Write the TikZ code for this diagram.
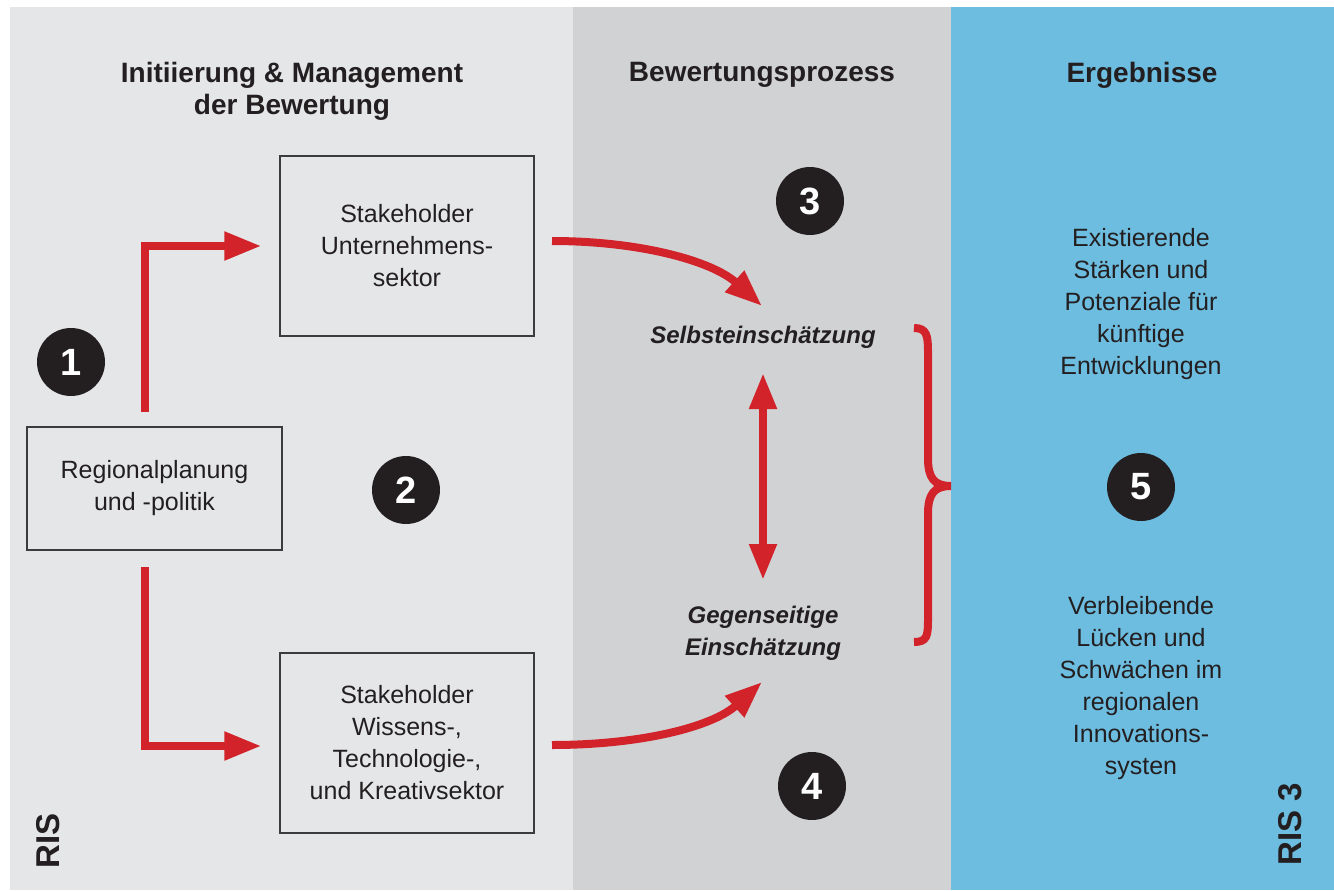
\documentclass[tikz,border=0pt]{standalone}
\usepackage{fontspec}
\setmainfont{Liberation Sans}
\usetikzlibrary{arrows.meta}
\definecolor{panelL}{HTML}{E5E6E8}
\definecolor{panelM}{HTML}{D1D2D4}
\definecolor{panelR}{HTML}{6DBDE0}
\definecolor{rred}{HTML}{D2232A}
\definecolor{ink}{HTML}{231F20}
\definecolor{boxline}{HTML}{3C3C3C}
\tikzset{
  title/.style={font=\fontsize{28}{32}\selectfont\bfseries, text=ink, align=center},
  body/.style={font=\fontsize{25}{32}\selectfont, text=ink, align=center},
  ital/.style={font=\fontsize{24}{32}\selectfont\bfseries\itshape, text=ink, align=center},
  stakebox/.style={draw=boxline, line width=1.3pt, body, minimum width=254pt, minimum height=180pt, inner sep=0pt},
  numdot/.style={circle, fill=ink, minimum size=68pt, inner sep=0pt, text=white, font=\fontsize{38}{38}\selectfont\bfseries},
  redline/.style={draw=rred, line width=8pt, line join=miter},
  redarr/.style={redline, -{Triangle[length=37pt,width=27pt]}},
  reddbl/.style={redline, {Triangle[length=36pt,width=26pt]}-{Triangle[length=36pt,width=26pt]}},
  sidelabel/.style={font=\fontsize{33}{33}\selectfont\bfseries, text=ink, rotate=90}
}
\begin{document}
\begin{tikzpicture}[x=1pt,y=-1pt]
\useasboundingbox (0,0) rectangle (1334,891);
\fill[white] (0,0) rectangle (1334,891);
% panels
\fill[panelL] (10,7) rectangle (573,890);
\fill[panelM] (573,7) rectangle (951,890);
\fill[panelR] (951,7) rectangle (1334,890);
% titles
\node[title] (t1) at (292,91) {Initiierung \& Management\\der Bewertung};
\node[title] (t2) at (762,75) {Bewertungsprozess};
\node[title] (t3) at (1142,75) {Ergebnisse};
% boxes
\node[stakebox] (A) at (407,246) {Stakeholder\\Unternehmens-\\sektor};
\node[stakebox, minimum width=255pt, minimum height=123pt] (R) at (154.5,488.5) {Regionalplanung\\und -politik};
\node[stakebox] (B) at (407,743) {Stakeholder\\Wissens-,\\Technologie-,\\und Kreativsektor};
% numbers
\node[numdot] (n1) at (71,362) {1};
\node[numdot] (n2) at (406,490) {2};
\node[numdot] (n3) at (810,201) {3};
\node[numdot] (n4) at (812,786) {4};
\node[numdot] (n5) at (1141,487) {5};
% middle labels
\node[ital] (S) at (763,337) {Selbsteinschätzung};
\node[ital] (G) at (763,633) {Gegenseitige\\Einschätzung};
% right texts
\node[body] (E) at (1141,304) {Existierende\\Stärken und\\Potenziale für\\künftige\\Entwicklungen};
\node[body] (V) at (1141,688) {Verbleibende\\Lücken und\\Schwächen im\\regionalen\\Innovations-\\systen};
% side labels
\node[sidelabel] (ris) at (48,841) {RIS};
\node[sidelabel] (ris3) at (1290,824) {RIS 3};
% connector anchors
\coordinate (r1) at (145,412);
\coordinate (r2) at (145,567);
\coordinate (c1) at (552,241);
\coordinate (c2) at (762,306);
\coordinate (c3) at (552,745);
\coordinate (c4) at (762,682);
\coordinate (d1) at (763,373);
\coordinate (d2) at (763,580);
\coordinate (bt) at (914,328);
\coordinate (bm) at (951,486);
\coordinate (bb) at (914,642);
% elbow arrows
\draw[redarr, shorten >=18pt] (r1) |- (A.west);
\draw[redarr, shorten >=18pt] (r2) |- ([yshift=-3pt]B.west);
% curved arrows
\draw[redarr] (c1) .. controls (640,241) and (712,261) .. (c2);
\draw[redarr] (c3) .. controls (640,745) and (712,727) .. (c4);
% double arrow
\draw[reddbl] (d1) -- (d2);
% brace
\draw[redline, line cap=butt] (bt) .. controls (927,328) and (928,336) .. (928,352)
  -- (928,458) .. controls (928,478) and (934,486) .. (bm)
  .. controls (934,486) and (928,494) .. (928,514)
  -- (928,620) .. controls (928,636) and (927,642) .. (bb);
\end{tikzpicture}
\end{document}
